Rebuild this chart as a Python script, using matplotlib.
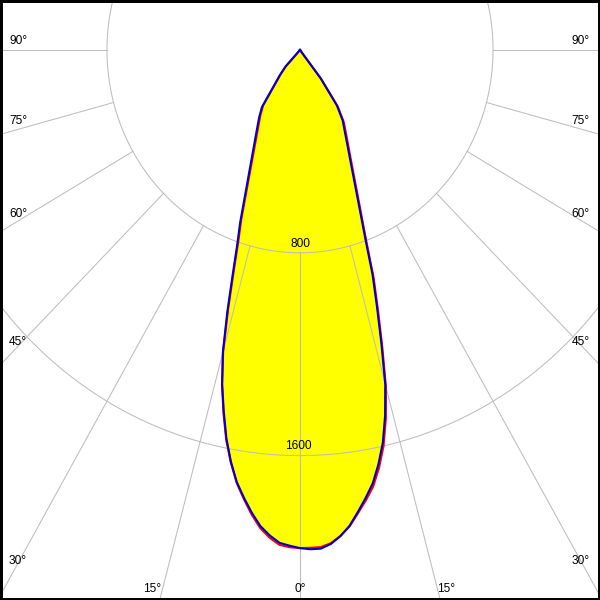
import numpy as np
import matplotlib
matplotlib.use("Agg")
import matplotlib.pyplot as plt

# polar intensity curve, cd per angle from nadir (both half-planes)
angles = np.array([0, 1.25, 2.5, 3.75, 5, 6.25, 7.5, 8.75, 10, 11.25, 12.5, 13.75, 15, 16.25, 17.5, 18.75, 20,
                   22.5, 25, 27.5, 30, 32.5, 35, 37.5, 40, 42.5, 45])
c90_left = [1965, 1956, 1946, 1919, 1885, 1836, 1781, 1724, 1649, 1563, 1460, 1357, 1235, 1077, 926, 808, 726,
            574, 475, 406, 355, 315, 275, 176, 130, 90, 0]
c90_right = [1965, 1970, 1969, 1953, 1925, 1888, 1838, 1788, 1736, 1666, 1586, 1484, 1365, 1205, 1060, 935, 791,
             615, 503, 427, 371, 329, 266, 140, 0, 0, 0]
c0_left = [1965, 1962, 1954, 1928, 1893, 1843, 1786, 1727, 1652, 1568, 1466, 1360, 1230, 1064, 912, 794, 712,
           560, 462, 394, 344, 306, 266, 170, 126, 86, 0]
c0_right = [1960, 1964, 1963, 1950, 1924, 1890, 1843, 1797, 1748, 1680, 1600, 1497, 1376, 1218, 1074, 950, 805,
            628, 515, 438, 382, 338, 274, 144, 0, 0, 0]

rings = [800, 1600]
spokes = [0, 15, 30, 45, 60, 75, 90]

# label placement in pixels (x, y from top)
left_labels = [("90°", 41), ("75°", 121), ("60°", 214), ("45°", 342), ("30°", 561)]
right_labels = [("90°", 41), ("75°", 121), ("60°", 214), ("45°", 342), ("30°", 561)]
bottom_labels = [("15°", 152), ("0°", 300), ("15°", 446)]

sx, sy = 0.2413, 0.2535  # px per cd
W = H = 600
cx, cy = 300, 50

def curve(left, right):
    th = np.radians(np.concatenate([-angles[::-1], angles[1:]]))
    r = np.concatenate([np.array(left)[::-1], np.array(right)[1:]])
    return r * np.sin(th), -r * np.cos(th)

fig = plt.figure(figsize=(6, 6), dpi=100)
ax = fig.add_axes([0, 0, 1, 1])
ax.set_xlim(-cx / sx, (W - cx) / sx)
ax.set_ylim(-(H - cy) / sy, cy / sy)
ax.set_xticks([])
ax.set_yticks([])
for s in ax.spines.values():
    s.set_color("black")
    s.set_linewidth(3.6)

grid_col = "#bdbdbd"
xb, yb = curve(c90_left, c90_right)
xr, yr = curve(c0_left, c0_right)
ax.fill(xr, yr, color="#ffff00", lw=0, zorder=1)
ax.fill(xb, yb, color="#ffff00", lw=0, zorder=1)

t = np.linspace(0, 2 * np.pi, 721)
for r in rings:
    ax.plot(r * np.sin(t), -r * np.cos(t), color=grid_col, lw=0.75, zorder=2)
for a in spokes:
    for sgn in (-1, 1):
        th = np.radians(sgn * a)
        rr = np.array([rings[0], 5000])
        ax.plot(rr * np.sin(th), -rr * np.cos(th), color=grid_col, lw=0.75, zorder=2)

font = dict(family="Liberation Sans", size=8.6, color="black")
ax.annotate("800", (0, -rings[0]), xytext=(0, 6.5), textcoords="offset points",
            ha="center", va="center", zorder=3, **font)
ax.annotate("1600", (0, -rings[1]), xytext=(-1, 7), textcoords="offset points",
            ha="center", va="center", zorder=3, **font)

ax.plot(xr, yr, color="#ff0000", lw=1.5, zorder=4)
ax.plot(xb, yb, color="#0000cc", lw=1.5, zorder=5)

for txt, y in left_labels:
    fig.text(9 / W, 1 - y / H, txt, ha="left", va="center", **font)
for txt, y in right_labels:
    fig.text(590 / W, 1 - y / H, txt, ha="right", va="center", **font)
for txt, x in bottom_labels:
    fig.text(x / W, 1 - 589 / H, txt, ha="center", va="center", **font)

fig.savefig("out.png", dpi=100)
